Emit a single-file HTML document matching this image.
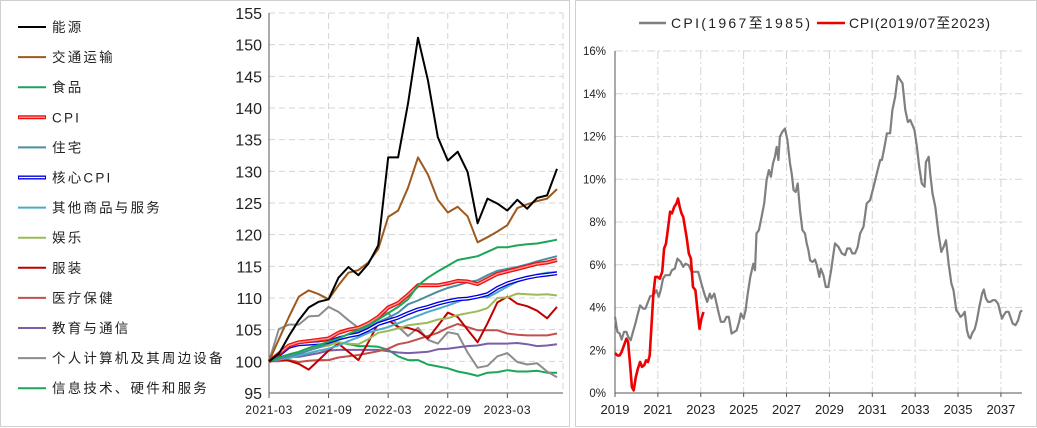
<!DOCTYPE html>
<html><head><meta charset="utf-8"><style>
html,body{margin:0;padding:0;background:#fff;}
svg{display:block;font-family:"Liberation Sans","Noto Sans CJK SC",sans-serif;}
</style></head><body>
<svg id="c" width="1037" height="428" viewBox="0 0 1037 428" xmlns="http://www.w3.org/2000/svg">
<rect x="0.5" y="0.5" width="569" height="426" fill="#fff" stroke="#d0d0d0"/>
<rect x="575.5" y="0.5" width="461" height="426" fill="#fff" stroke="#d0d0d0"/>
<g id="leftGrid"></g>
<g id="leftAxes"></g>
<g id="leftSeries"></g>
<g id="legendL"></g>
<g id="rightGrid"></g>
<g id="rightAxes"></g>
<g id="rightSeries"></g>
<g id="legendR"></g>
</svg>
<script>
// ---------- Left chart data (monthly 2021-03 .. 2023-08, index 2021-03 = 100) ----------
const leftXTicks = ["2021-03","2021-09","2022-03","2022-09","2023-03"];
const leftYTicks = [95,100,105,110,115,120,125,130,135,140,145,150,155];
const energy = [100,101.2,104,106.5,108.5,109.4,109.8,113.2,114.9,113.6,115.4,118.3,132.2,132.2,140.7,151.1,144.4,135.4,131.7,133.1,129.9,121.8,125.7,124.9,123.8,125.5,124.1,125.8,126.2,130.4];
const transport = [100,103.5,107,110.2,111.2,110.6,109.8,112,114,114.4,115.6,117.7,122.8,123.8,127.4,132.2,129.5,125.5,123.5,124.4,122.9,118.8,119.6,120.5,121.5,124.2,124.8,125.3,125.7,127.2];
const food = [100,100.6,101.1,101.5,102.1,102.6,103.1,103.6,104.3,105,105.7,106.6,107.6,108.6,109.8,112,113.2,114.2,115.1,116,116.3,116.6,117.3,118,118,118.3,118.5,118.6,118.9,119.2];
const cpi = [100,101.2,102.5,103,103.2,103.4,103.6,104.5,105,105.3,106,107,108.5,109.2,110.5,112,112,112,112.3,112.7,112.6,112.2,113,113.8,114.2,114.6,115,115.4,115.6,116];
const housing = [100,100.4,100.8,101.2,101.7,102.2,102.8,103.4,104,104.7,105.4,106.2,106.9,107.7,109,109.6,110.3,111,111.6,112,112.5,112.8,113.6,114.3,114.6,114.9,115.3,115.8,116.2,116.6];
const coreCpi = [100,101,102.3,102.7,102.8,102.9,103.1,103.6,104,104.3,105,105.9,106.4,106.9,107.6,108.2,108.6,109.1,109.5,109.8,109.9,110.2,110.6,111.6,112.3,112.8,113.2,113.5,113.7,113.9];
const otherGoods = [100,100.3,100.5,100.9,101.3,101.7,102,102.5,103.2,103.8,104.5,105,105.4,106,106.6,107.2,107.8,108.3,108.8,109.4,110,110.3,110.1,110.9,111.8,112.6,113.2,113.7,114,114.1];
const recreation = [100,100.5,101,101.3,101.8,102.2,102.5,103,102.8,102.7,103.5,104.5,104.8,105.2,105.7,105.9,106.1,106.6,106.8,107.3,107.6,107.9,108.4,110,110.1,110.7,110.6,110.5,110.6,110.4];
const apparel = [100,100.3,100.1,99.6,98.7,100.2,101.7,102.8,101.5,100.2,103,106,106.5,105.4,105.3,104.8,103.6,105.6,107.7,107,105,103,106,109.3,110.2,109.1,108.7,108,106.8,108.6];
const medical = [100,100,100.2,99.9,100.1,100.2,100.2,100.6,100.8,101,101.3,101.6,102,102.7,103,103.5,104,104.5,105.3,105.9,105.4,104.9,104.9,104.9,104.4,104.2,104.1,104.1,104.1,104.4];
const education = [100,100.4,100.7,100.7,101,101.3,101.7,101.8,101.8,101.8,101.8,101.8,101.6,101.4,101.3,101.4,101.5,101.9,102,102.2,102.4,102.5,102.8,102.8,102.8,102.9,102.7,102.4,102.5,102.7];
const pcs = [100,105.1,105.8,105.8,107.1,107.2,108.6,107.8,106.5,105.3,106.1,107,107.7,105.5,104,105.3,103.4,102.8,104.6,104.3,101.4,99,99.3,100.8,101.3,99.9,99.5,99.7,98.4,97.5];
const itServices = [100,100.5,100.8,101,101.8,102.5,103,103,102.7,102.4,102.4,102.3,101.8,100.8,100.2,100.2,99.5,99.2,98.9,98.4,98.1,97.7,98.2,98.3,98.6,98.4,98.4,98.5,98.2,98.2];
const leftNames = ["能源","交通运输","食品","CPI","住宅","核心CPI","其他商品与服务","娱乐","服装","医疗保健","教育与通信","个人计算机及其周边设备","信息技术、硬件和服务"];

// ---------- Right chart data ----------
const rightYTicks = [0,2,4,6,8,10,12,14,16];
const rightXTicks = [2019,2021,2023,2025,2027,2029,2031,2033,2035,2037];
const grayT = [2019.00,2019.11,2019.22,2019.31,2019.42,2019.53,2019.62,2019.73,2019.84,2019.95,2020.07,2020.17,2020.31,2020.42,2020.54,2020.64,2020.79,2020.93,2021.04,2021.13,2021.24,2021.35,2021.55,2021.66,2021.79,2021.91,2022.07,2022.18,2022.29,2022.44,2022.57,2022.88,2023.03,2023.19,2023.30,2023.42,2023.50,2023.63,2023.74,2023.84,2023.94,2024.09,2024.20,2024.31,2024.44,2024.56,2024.67,2024.79,2024.87,2025.00,2025.09,2025.18,2025.31,2025.45,2025.53,2025.60,2025.71,2025.84,2025.96,2026.07,2026.18,2026.27,2026.37,2026.46,2026.54,2026.62,2026.69,2026.80,2026.93,2027.04,2027.16,2027.24,2027.33,2027.43,2027.52,2027.63,2027.74,2027.86,2027.94,2028.02,2028.10,2028.21,2028.33,2028.41,2028.53,2028.60,2028.72,2028.83,2028.95,2029.08,2029.19,2029.26,2029.42,2029.58,2029.73,2029.83,2029.97,2030.07,2030.20,2030.32,2030.43,2030.59,2030.74,2030.90,2031.06,2031.21,2031.37,2031.45,2031.57,2031.68,2031.83,2031.94,2032.07,2032.19,2032.30,2032.41,2032.54,2032.66,2032.77,2032.88,2032.97,2033.08,2033.19,2033.31,2033.44,2033.50,2033.63,2033.70,2033.81,2033.94,2034.09,2034.22,2034.33,2034.44,2034.56,2034.69,2034.79,2034.92,2035.03,2035.11,2035.21,2035.31,2035.42,2035.50,2035.57,2035.65,2035.78,2035.88,2035.99,2036.12,2036.20,2036.30,2036.40,2036.51,2036.62,2036.74,2036.87,2036.98,2037.05,2037.13,2037.24,2037.36,2037.44,2037.55,2037.68,2037.80,2037.91,2037.99];
const grayV = [3.56,2.86,2.78,2.50,2.86,2.86,2.62,2.47,2.86,3.25,3.72,4.10,3.95,3.95,4.26,4.53,4.57,4.81,4.50,4.81,5.35,5.51,5.51,5.75,5.82,6.29,6.13,5.90,6.05,5.98,5.67,5.67,5.12,4.57,4.26,4.65,4.42,4.65,4.18,3.72,3.33,3.33,3.56,3.56,2.78,2.86,2.93,3.33,3.72,3.48,3.87,4.57,5.43,6.05,5.74,7.46,7.62,8.24,8.87,9.96,10.43,10.12,10.74,11.05,11.52,10.90,11.99,12.21,12.37,11.83,10.74,10.27,9.49,9.41,9.80,8.55,7.62,7.46,7.00,6.68,6.21,6.13,6.24,5.98,5.43,5.82,5.51,4.96,4.96,5.74,6.53,7.00,6.84,6.53,6.45,6.76,6.76,6.53,6.53,6.84,7.46,7.78,8.87,9.02,9.65,10.27,10.90,10.90,11.52,12.15,12.15,13.24,13.86,14.83,14.65,14.49,13.24,12.68,12.77,12.52,12.30,11.52,10.59,9.80,9.65,10.80,11.05,10.27,9.34,8.71,7.46,6.60,6.84,7.15,6.06,5.12,4.81,3.87,3.72,3.56,3.64,3.80,2.93,2.62,2.55,2.78,3.00,3.40,4.03,4.65,4.84,4.42,4.26,4.26,4.34,4.34,4.18,3.72,3.48,3.64,3.80,3.80,3.56,3.25,3.17,3.40,3.80,3.87];
const redT = [2019.00,2019.11,2019.22,2019.31,2019.42,2019.53,2019.61,2019.70,2019.79,2019.87,2019.97,2020.07,2020.17,2020.26,2020.36,2020.45,2020.54,2020.62,2020.70,2020.79,2020.88,2020.98,2021.09,2021.20,2021.29,2021.38,2021.48,2021.57,2021.66,2021.76,2021.87,2021.94,2022.02,2022.10,2022.18,2022.26,2022.35,2022.44,2022.54,2022.64,2022.75,2022.85,2022.94,2023.03,2023.13];
const redV = [1.87,1.76,1.76,1.92,2.23,2.54,2.39,1.37,0.28,0.12,0.75,1.14,1.45,1.22,1.30,1.53,1.45,1.76,3.09,4.65,5.43,5.43,5.35,5.67,6.76,6.99,7.77,8.48,8.40,8.71,8.87,9.10,8.71,8.40,8.24,7.77,7.23,6.53,6.29,4.96,4.81,3.87,3.01,3.48,3.79];

const NS="http://www.w3.org/2000/svg";
function mk(tag, attrs, parent){const e=document.createElementNS(NS,tag);for(const k in attrs)e.setAttribute(k,attrs[k]);parent.appendChild(e);return e;}

// ---------- Left chart ----------
const L={x0:269,x1:563,y0:393,y1:13,ymin:95,ymax:155};
const lx=i=>L.x0+i*(557-269)/29;
const ly=v=>L.y0-(v-L.ymin)/(L.ymax-L.ymin)*(L.y0-L.y1);
const lg=document.getElementById('leftGrid'), la=document.getElementById('leftAxes'), ls=document.getElementById('leftSeries');
leftYTicks.forEach(v=>{
  if(v!==L.ymin){const g=mk('line',{x1:L.x0,x2:L.x1,y1:ly(v),y2:ly(v),stroke:'#d4d4d4','stroke-dasharray':'6,4'},lg);
  
  }
  const t=mk('text',{x:262,y:ly(v)+6,'text-anchor':'end','font-size':'16',fill:'#222'},la);t.textContent=v;
  
  
});
leftXTicks.forEach((s,i)=>{
  const x=lx(i*6);
  if(i>0){const g=mk('line',{x1:x,x2:x,y1:L.y1,y2:L.y0,stroke:'#d4d4d4','stroke-dasharray':'6,4'},lg);
  
  }
  mk('line',{x1:x,x2:x,y1:L.y0,y2:L.y0+5,stroke:'#555'},la);
  const t=mk('text',{x:x,y:414,'text-anchor':'middle','font-size':'12',fill:'#222','letter-spacing':'0.5'},la);t.textContent=s;
  
  
});
mk('line',{x1:L.x1,x2:L.x1,y1:L.y1,y2:L.y0,stroke:'#d4d4d4','stroke-dasharray':'6,4'},lg);
mk('line',{x1:L.x0,x2:L.x0,y1:L.y1,y2:L.y0,stroke:'#555'},la);
mk('line',{x1:L.x0,x2:L.x1,y1:L.y0,y2:L.y0,stroke:'#555'},la);
const lseries=[
 {d:itServices,c:'#1aa65a',n:'it-services-line'},
 {d:pcs,c:'#8c8c8c',n:'pc-line'},
 {d:education,c:'#7b5ea7',n:'education-line'},
 {d:medical,c:'#c0504d',n:'medical-line'},
 {d:apparel,c:'#c00000',n:'apparel-line'},
 {d:recreation,c:'#9bbb59',n:'recreation-line'},
 {d:otherGoods,c:'#4bacc6',n:'other-goods-line'},
 {d:housing,c:'#4a8ea0',n:'housing-line'},
 {d:coreCpi,c:'#0000dd',n:'core-cpi-line',dbl:true},
 {d:cpi,c:'#ee1111',n:'cpi-line',dbl:true,inner:'#ff9a9a'},
 {d:food,c:'#1aa65a',n:'food-line'},
 {d:transport,c:'#9c5a1e',n:'transport-line'},
 {d:energy,c:'#000000',n:'energy-line'}
];
lseries.forEach(s=>{
  const pts=s.d.map((v,i)=>lx(i).toFixed(1)+','+ly(v).toFixed(1)).join(' ');
  const p=mk('polyline',{points:pts,fill:'none',stroke:s.c,'stroke-width':s.dbl?4:2,'stroke-linejoin':'round'},ls);
  
  
  if(s.dbl){const q=mk('polyline',{points:pts,fill:'none',stroke:s.inner||'#fff','stroke-width':1.3},ls);
  
  }
});
// legend
const legCols=['#000000','#9c5a1e','#1aa65a','#ee1111','#4a8ea0','#0000dd','#4bacc6','#9bbb59','#c00000','#c0504d','#7b5ea7','#8c8c8c','#1aa65a'];
const legDbl=[false,false,false,true,false,true,false,false,false,false,false,false,false];
const leg=document.getElementById('legendL');
leftNames.forEach((n,i)=>{
  const y=27+i*30.1;
  const g=mk('g',{},leg);
  
  
  mk('line',{x1:18,x2:46,y1:y,y2:y,stroke:legCols[i],'stroke-width':legDbl[i]?4:2},g);
  if(legDbl[i]) mk('line',{x1:19,x2:45,y1:y,y2:y,stroke:i===3?'#ff9a9a':'#fff','stroke-width':1.3},g);
  const t=mk('text',{x:52,y:y+5,'font-size':'13.5',fill:'#222','letter-spacing':'2.2'},g);t.textContent=n;
});

// ---------- Right chart ----------
const R={x0:615,x1:1022,y0:393,y1:51,tmin:2019,ppy:21.44};
const rx=t=>R.x0+(t-R.tmin)*R.ppy;
const ry=v=>R.y0-v/16*(R.y0-R.y1);
const rg=document.getElementById('rightGrid'), ra=document.getElementById('rightAxes'), rs=document.getElementById('rightSeries');
rightYTicks.forEach(v=>{
  if(v>0){const g=mk('line',{x1:R.x0,x2:R.x1,y1:ry(v),y2:ry(v),stroke:'#d4d4d4','stroke-dasharray':'8,3,2,3'},rg);
  
  }
  const t=mk('text',{x:606,y:ry(v)+4,'text-anchor':'end','font-size':'11.5',fill:'#222'},ra);t.textContent=v+'%';
  
  
});
rightXTicks.forEach(yr=>{
  const x=rx(yr);
  if(yr>2019){const g=mk('line',{x1:x,x2:x,y1:R.y1,y2:R.y0,stroke:'#d4d4d4','stroke-dasharray':'8,3,2,3'},rg);
  
  }
  mk('line',{x1:x,x2:x,y1:R.y0,y2:R.y0+4,stroke:'#555'},ra);
  const t=mk('text',{x:x,y:414,'text-anchor':'middle','font-size':'13',fill:'#222'},ra);t.textContent=yr;
  
  
});
mk('line',{x1:R.x0,x2:R.x0,y1:R.y1,y2:R.y0,stroke:'#555'},ra);
mk('line',{x1:R.x0,x2:R.x1,y1:R.y0,y2:R.y0,stroke:'#555'},ra);
const gp=mk('polyline',{points:grayT.map((t,i)=>rx(t).toFixed(1)+','+ry(grayV[i]).toFixed(1)).join(' '),fill:'none',stroke:'#7f7f7f','stroke-width':2.2,'stroke-linejoin':'round'},rs);


const rp=mk('polyline',{points:redT.map((t,i)=>rx(t).toFixed(1)+','+ry(redV[i]).toFixed(1)).join(' '),fill:'none',stroke:'#ee0000','stroke-width':2.6,'stroke-linejoin':'round'},rs);


const lr=document.getElementById('legendR');
const e1=mk('g',{},lr);


mk('line',{x1:639,x2:666,y1:23,y2:23,stroke:'#7f7f7f','stroke-width':2.5},e1);
const t1=mk('text',{x:671,y:28,'font-size':'14',fill:'#222',textLength:'139',lengthAdjust:'spacing'},e1);t1.textContent='CPI(1967至1985)';
const e2=mk('g',{},lr);


mk('line',{x1:817,x2:845,y1:23,y2:23,stroke:'#ee0000','stroke-width':2.5},e2);
const t2=mk('text',{x:849,y:28,'font-size':'14',fill:'#222',textLength:'141',lengthAdjust:'spacing'},e2);t2.textContent='CPI(2019/07至2023)';
</script>
</body></html>
